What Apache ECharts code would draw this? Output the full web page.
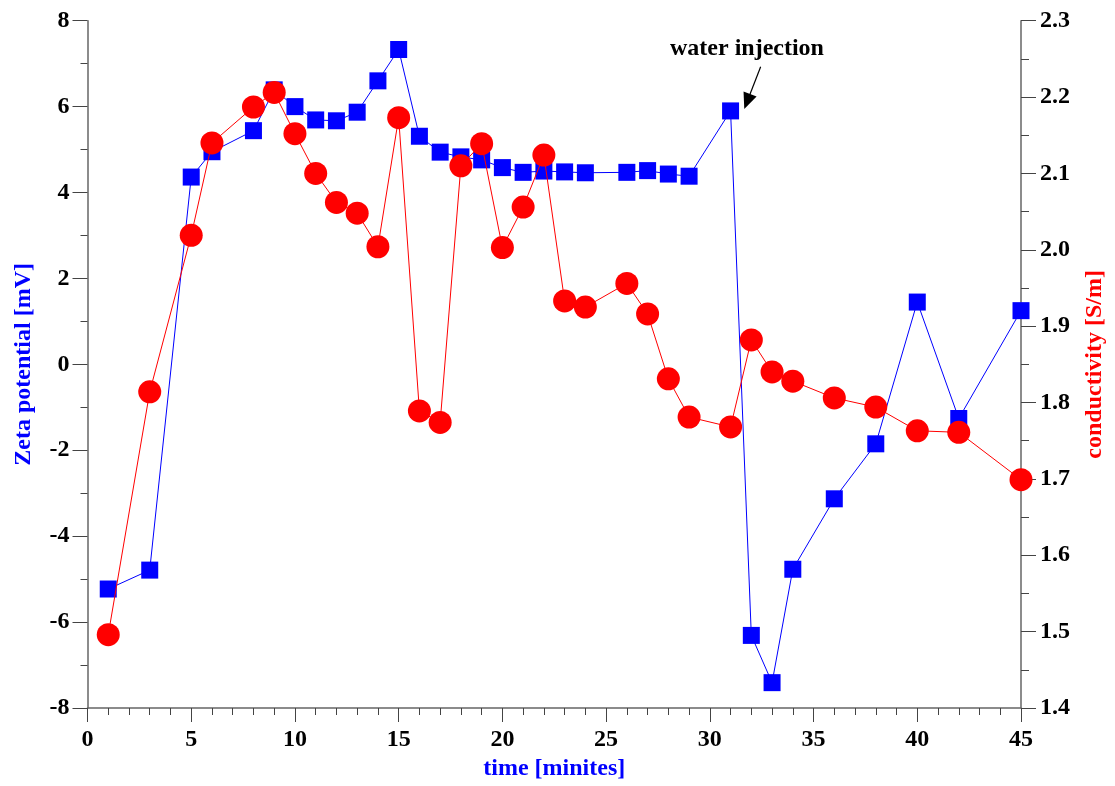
<!DOCTYPE html>
<html>
<head>
<meta charset="utf-8">
<script src="https://cdn.jsdelivr.net/npm/echarts@6/dist/echarts.min.js"></script>
<style>html,body{margin:0;padding:0;background:#fff}#c{width:1115px;height:786px}</style>
</head>
<body>
<div id="c"></div>
<script>
const times = [1,3,5,6,8,9,10,11,12,13,14,15,16,17,18,19,20,21,22,23,24,26,27,28,29,31,32,33,34,36,38,40,42,45];
const zeta = [-5.23,-4.79,4.36,4.95,5.44,6.39,6.0,5.69,5.67,5.87,6.6,7.33,5.31,4.94,4.83,4.76,4.58,4.47,4.5,4.48,4.46,4.47,4.51,4.43,4.38,5.9,-6.31,-7.41,-4.77,-3.13,-1.85,1.45,-1.26,1.25];
const conductivity = [1.496,1.814,2.019,2.140,2.187,2.206,2.152,2.100,2.062,2.048,2.004,2.173,1.789,1.774,2.110,2.139,2.003,2.056,2.124,1.933,1.925,1.956,1.916,1.831,1.781,1.768,1.882,1.840,1.828,1.806,1.794,1.763,1.761,1.699];
const arrowStart = [32.45, 6.93];
const arrowEnd = [31.8, 6.12];
const annotationText = 'water injection';

const FONT = 'Liberation Serif';
const axisLineStyle = {color:'#666', width:1.5};
const labelStyle = {color:'#000', fontFamily:FONT, fontWeight:'bold', fontSize:24};
const nameStyle = (c)=>({color:c, fontFamily:FONT, fontWeight:'bold', fontSize:24});

const chart = echarts.init(document.getElementById('c'));
chart.setOption({
  animation:false,
  backgroundColor:'#fff',
  grid:{left:87.5, right:93.5, top:20.7, bottom:78, containLabel:false},
  xAxis:{
    type:'value', min:0, max:45, interval:5,
    name:'time [minites]', nameLocation:'middle', nameGap:48, nameTextStyle:nameStyle('#0000ff'),
    axisLine:{show:true, onZero:false, lineStyle:axisLineStyle},
    axisTick:{show:true, inside:false, length:14, lineStyle:{color:'#444', width:1}},
    minorTick:{show:true, splitNumber:5, length:7, lineStyle:{color:'#444', width:1}},
    axisLabel:{...labelStyle, margin:20},
    splitLine:{show:false}
  },
  yAxis:[{
    type:'value', min:-8, max:8, interval:2, position:'left',
    name:'Zeta potential [mV]', nameLocation:'middle', nameGap:52, nameRotate:90, nameTextStyle:nameStyle('#0000ff'),
    axisLine:{show:true, onZero:false, lineStyle:axisLineStyle},
    axisTick:{show:true, inside:false, length:15, lineStyle:{color:'#444', width:1}},
    minorTick:{show:true, splitNumber:2, length:7, lineStyle:{color:'#444', width:1}},
    axisLabel:{...labelStyle, margin:18},
    splitLine:{show:false}
  },{
    type:'value', min:1.4, max:2.3, interval:0.1, position:'right',
    name:'conductivity [S/m]', nameLocation:'middle', nameGap:62, nameRotate:90, nameTextStyle:nameStyle('#ff0000'),
    axisLine:{show:true, onZero:false, lineStyle:axisLineStyle},
    axisTick:{show:true, inside:false, length:15, lineStyle:{color:'#444', width:1}},
    minorTick:{show:true, splitNumber:2, length:8, lineStyle:{color:'#444', width:1}},
    axisLabel:{...labelStyle, margin:19, formatter:(v)=>v.toFixed(1)},
    splitLine:{show:false}
  }],
  series:[{
    type:'line', name:'zeta', yAxisIndex:0,
    data: times.map((t,i)=>[t, zeta[i]]),
    symbol:'rect', symbolSize:17,
    itemStyle:{color:'#0000ff'},
    lineStyle:{color:'#0000ff', width:1},
    z:2,
    markLine:{
      silent:true, symbol:['none','triangle'], symbolSize:[14,16],
      lineStyle:{color:'#000', width:1.2, type:'solid'},
      label:{show:false},
      data:[[{coord:arrowStart},{coord:arrowEnd}]]
    }
  },{
    type:'line', name:'conductivity', yAxisIndex:1,
    data: times.map((t,i)=>[t, conductivity[i]]),
    symbol:'circle', symbolSize:23,
    itemStyle:{color:'#ff0000'},
    lineStyle:{color:'#ff0000', width:1},
    z:3
  }],
  graphic:[{
    type:'text', left:670, top:37,
    style:{text:annotationText, fill:'#000', font:'bold 24px "Liberation Serif"'}
  }]
});
</script>
</body>
</html>
